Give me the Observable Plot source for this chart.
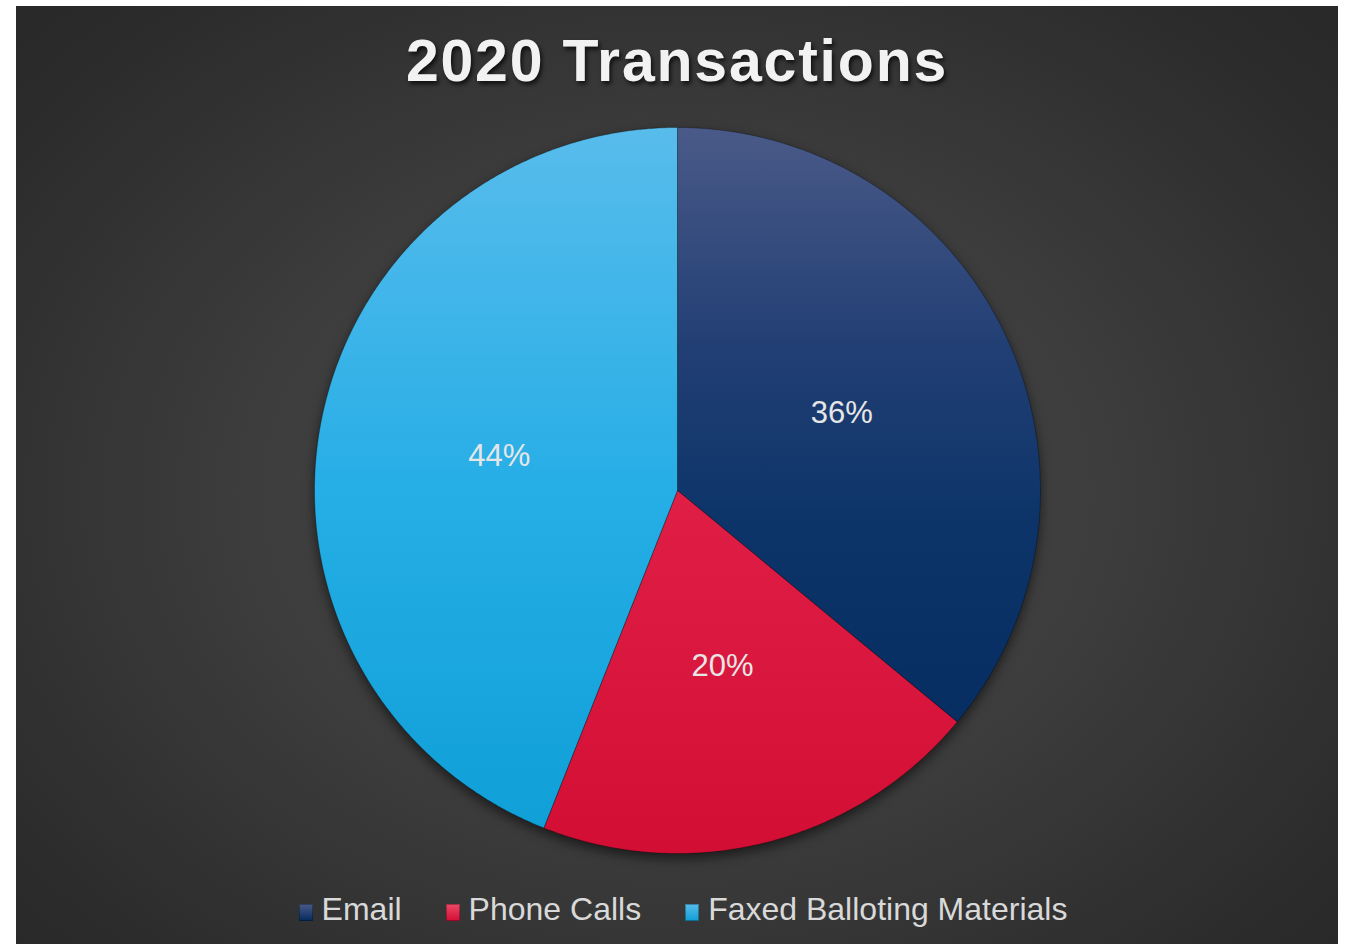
<!DOCTYPE html>
<html>
<head>
<meta charset="utf-8">
<script src="https://cdn.jsdelivr.net/npm/d3@7"></script>
<script src="https://cdn.jsdelivr.net/npm/@observablehq/plot@0.6"></script>
<style>
  html, body { margin: 0; padding: 0; background: #ffffff; }
  #card {
    position: absolute; left: 16px; top: 6px; width: 1322px; height: 938px;
    background: radial-gradient(ellipse 75% 80% at 50% 52%, #4b4b4b 0%, #3c3c3c 45%, #2c2c2c 80%, #272727 100%);
    font-family: "Liberation Sans", Arial, sans-serif; overflow: hidden;
  }
  #title {
    position: absolute; left: 0; top: 20px; width: 1322px; text-align: center;
    font-weight: bold; font-size: 59px; color: #f2f2f2; line-height: 70px;
    letter-spacing: 1.8px; text-shadow: 2px 3px 4px rgba(0,0,0,0.7);
  }
  #chart { position: absolute; left: 0; top: 110px; }
  #chart svg { overflow: visible; }
  #legend {
    position: absolute; left: 6px; top: 885px; width: 1322px; text-align: center;
    font-size: 32px; color: #d9d9d9; line-height: 36px; white-space: nowrap;
  }
  .item { display: inline-block; margin: 0 22px; }
  .sw { display: inline-block; width: 14px; height: 17px; margin-right: 9px; vertical-align: -1px; box-shadow: inset 0 0 0 1px rgba(0,0,0,0.3); }
</style>
</head>
<body>
<div id="card">
  <div id="title">2020 Transactions</div>
  <div id="chart"></div>
  <div id="legend"></div>
</div>
<script>
// ---- data ----
const categories = ["Email", "Phone Calls", "Faxed Balloting Materials"];
const values = [36, 20, 44];
const labels = ["36%", "20%", "44%"];
const gradientStops = [
  [["0%", "#4a5a88"], ["30%", "#223f74"], ["55%", "#0c3469"], ["100%", "#042a5e"]],
  [["0%", "#ec4a66"], ["50%", "#e01f46"], ["100%", "#d30e35"]],
  [["0%", "#58bcec"], ["50%", "#26aee6"], ["100%", "#0e9ed6"]]
];

// ---- geometry built from the data ----
const total = d3.sum(values);
const cum = d3.cumsum(values);
const slices = categories.map((c, i) => ({
  cat: c, value: values[i], label: labels[i],
  a0: ((cum[i] - values[i]) / total) * 2 * Math.PI,
  a1: (cum[i] / total) * 2 * Math.PI
}));
const pts = [];
for (const s of slices) {
  pts.push({cat: s.cat, x: 0, y: 0});
  const n = Math.max(2, Math.ceil((s.a1 - s.a0) / (Math.PI / 360)));
  for (let k = 0; k <= n; k++) {
    const a = s.a0 + (s.a1 - s.a0) * k / n;
    pts.push({cat: s.cat, x: Math.sin(a), y: Math.cos(a)});
  }
  pts.push({cat: s.cat, x: 0, y: 0});
}
const labelPts = slices.map(s => {
  const m = (s.a0 + s.a1) / 2;
  return {label: s.label, x: 0.5 * Math.sin(m), y: 0.5 * Math.cos(m)};
});

const W = 1322, H = 760, R = 363, CX = 661, CY = 374;
const plot = Plot.plot({
  width: W, height: H, margin: 0,
  x: {domain: [-CX / R, (W - CX) / R], range: [0, W], axis: null},
  y: {domain: [-(H - CY) / R, CY / R], range: [H, 0], axis: null},
  color: {domain: categories, range: categories.map((c, i) => `url(#grad${i})`)},
  style: {background: "transparent", overflow: "visible"},
  marks: [
    Plot.line(pts, {x: "x", y: "y", z: "cat", fill: "cat", stroke: "rgba(0,0,0,0.3)", strokeWidth: 1, curve: "linear", className: "slices"}),
    Plot.text(labelPts, {x: "x", y: "y", text: "label", fill: "#e6e6e6", fontSize: 31, fontFamily: "Liberation Sans, Arial, sans-serif"})
  ]
});
// gradients
const svg = d3.select(plot);
const defs = svg.insert("defs", ":first-child");
gradientStops.forEach((stops, i) => {
  const g = defs.append("linearGradient").attr("id", `grad${i}`)
    .attr("gradientUnits", "userSpaceOnUse")
    .attr("x1", 0).attr("x2", 0).attr("y1", CY - R).attr("y2", CY + R);
  stops.forEach(([o, c]) => g.append("stop").attr("offset", o).attr("stop-color", c));
});
svg.select("g.slices").style("filter", "drop-shadow(0px 5px 6px rgba(0,0,0,0.55))");
document.getElementById("chart").appendChild(plot);

// legend
const leg = document.getElementById("legend");
categories.forEach((c, i) => {
  const it = document.createElement("span");
  it.className = "item";
  const st = gradientStops[i];
  it.innerHTML = `<span class="sw" style="background:linear-gradient(${st[0][1]}, ${st[st.length - 1][1]})"></span>${c}`;
  leg.appendChild(it);
});
</script>
</body>
</html>
